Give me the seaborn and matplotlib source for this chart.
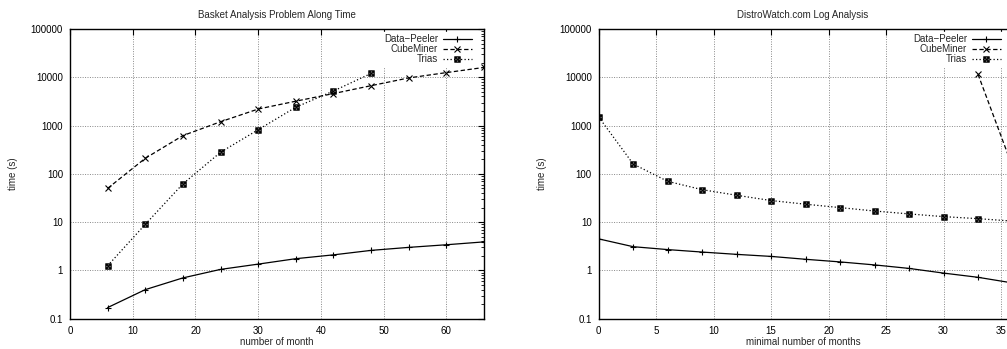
import matplotlib
matplotlib.use("Agg")
import matplotlib.pyplot as plt
import matplotlib.ticker as mticker
import seaborn as sns
import numpy as np

# ---------------- data ----------------
left_title = "Basket Analysis Problem Along Time"
left_xlabel = "number of month"
left_x_peeler = [6, 12, 18, 24, 30, 36, 42, 48, 54, 60, 66]
left_peeler = [0.17, 0.40, 0.70, 1.05, 1.35, 1.75, 2.1, 2.6, 3.0, 3.4, 3.9]
left_x_cube = [6, 12, 18, 24, 30, 36, 42, 48, 54, 60, 66]
left_cube = [50, 210, 620, 1200, 2200, 3200, 4600, 6700, 9700, 12500, 16000]
left_x_trias = [6, 12, 18, 24, 30, 36, 42, 48]
left_trias = [1.25, 9, 62, 280, 820, 2400, 5200, 12000]
left_xticks = [0, 10, 20, 30, 40, 50, 60]

right_title = "DistroWatch.com Log Analysis"
right_xlabel = "minimal number of months"
right_x_peeler = [0, 3, 6, 9, 12, 15, 18, 21, 24, 27, 30, 33, 36]
right_peeler = [4.5, 3.1, 2.7, 2.4, 2.15, 1.95, 1.7, 1.5, 1.3, 1.1, 0.88, 0.72, 0.55]
right_x_cube = [33, 36]
right_cube = [11500, 140]
right_x_trias = [0, 3, 6, 9, 12, 15, 18, 21, 24, 27, 30, 33, 36]
right_trias = [1500, 160, 70, 47, 36, 28, 23.5, 20, 17, 14.8, 13, 11.8, 10.5]
right_xticks = [0, 5, 10, 15, 20, 25, 30, 35]

series_names = ["Data\u2212Peeler", "CubeMiner", "Trias"]
ylabel = "time (s)"
yticks = [0.1, 1, 10, 100, 1000, 10000, 100000]
ytick_labels = ["0.1", "1", "10", "100", "1000", "10000", "100000"]

# ---------------- style ----------------
sns.set_theme(style="white")
plt.rcParams["font.family"] = ["Liberation Sans", "DejaVu Sans"]
plt.rcParams["font.size"] = 7
plt.rcParams["axes.linewidth"] = 1.0

W, H = 1007, 349
fig = plt.figure(figsize=(W / 100, H / 100), dpi=100)

ax1 = fig.add_axes([70 / W, (H - 318.7) / H, (484 - 70) / W, (318.7 - 29) / H])
ax2 = fig.add_axes([598.7 / W, (H - 318.7) / H, (1007 - 598.7) / W, (318.7 - 29) / H])

styles = [
    dict(linestyle="-", marker="+", markersize=5, markeredgewidth=0.8),
    dict(linestyle=(0, (3.5, 2)), marker="x", markersize=4, markeredgewidth=0.8),
    dict(linestyle=(0, (1, 1.8)), marker="$\\boxtimes$", markersize=4.2, markeredgewidth=0.4),
]


def draw(ax, xs, ys, title, xlabel, xlim, xticks, leg_right_px, right_cut=False):
    for (x, y), name, st in zip(zip(xs, ys), series_names, styles):
        sns.lineplot(x=x, y=y, ax=ax, color="black", linewidth=0.9,
                     label=name, markeredgecolor="black", markerfacecolor="black", **st)
    ax.set_yscale("log")
    ax.set_ylim(0.1, 100000)
    ax.set_xlim(*xlim)
    ax.yaxis.set_major_locator(mticker.FixedLocator(yticks))
    ax.yaxis.set_major_formatter(mticker.FixedFormatter(ytick_labels))
    ax.yaxis.set_minor_locator(mticker.LogLocator(base=10, subs=np.arange(2, 10)))
    ax.yaxis.set_minor_formatter(mticker.NullFormatter())
    ax.set_xticks(xticks)
    ax.set_xticklabels([str(t) for t in xticks])
    ax.tick_params(which="both", direction="in", top=True, right=not right_cut,
                   labelsize=7, colors="black", pad=5)
    ax.tick_params(which="major", length=4, width=0.8)
    ax.tick_params(which="minor", length=2, width=0.6)
    ax.grid(True, which="major", color="#888888", linestyle=(0, (1, 1.5)), linewidth=0.7)
    ax.set_axisbelow(True)
    for sp in ax.spines.values():
        sp.set_color("black")
    if right_cut:
        ax.spines["right"].set_visible(False)
    ax.set_title(title, fontsize=7, pad=8)
    ax.set_xlabel(xlabel, fontsize=7, labelpad=1)
    ax.set_ylabel(ylabel, fontsize=7, labelpad=9)
    # legend anchored in axes fraction
    bb = ax.get_position()
    ax_w_px = bb.width * W
    ax_h_px = bb.height * H
    anchor = (1 - leg_right_px / ax_w_px, 1 - 3 / ax_h_px)
    leg = ax.legend(loc="upper right", bbox_to_anchor=anchor, markerfirst=False,
                    frameon=True, fontsize=7, handlelength=3.0, handletextpad=0.5,
                    labelspacing=0.0, borderaxespad=0.0, borderpad=0.2,
                    fancybox=False, framealpha=1.0, edgecolor="white",
                    facecolor="white")
    try:
        for col in leg._legend_handle_box.get_children():
            col.align = "right"
    except Exception:
        pass


draw(ax1, [left_x_peeler, left_x_cube, left_x_trias],
     [left_peeler, left_cube, left_trias], left_title, left_xlabel, (0, 66), left_xticks, 10)
draw(ax2, [right_x_peeler, right_x_cube, right_x_trias],
     [right_peeler, right_cube, right_trias], right_title, right_xlabel, (0, 35.52),
     right_xticks, 4, right_cut=True)

fig.savefig("out.png", dpi=100, facecolor="white")
